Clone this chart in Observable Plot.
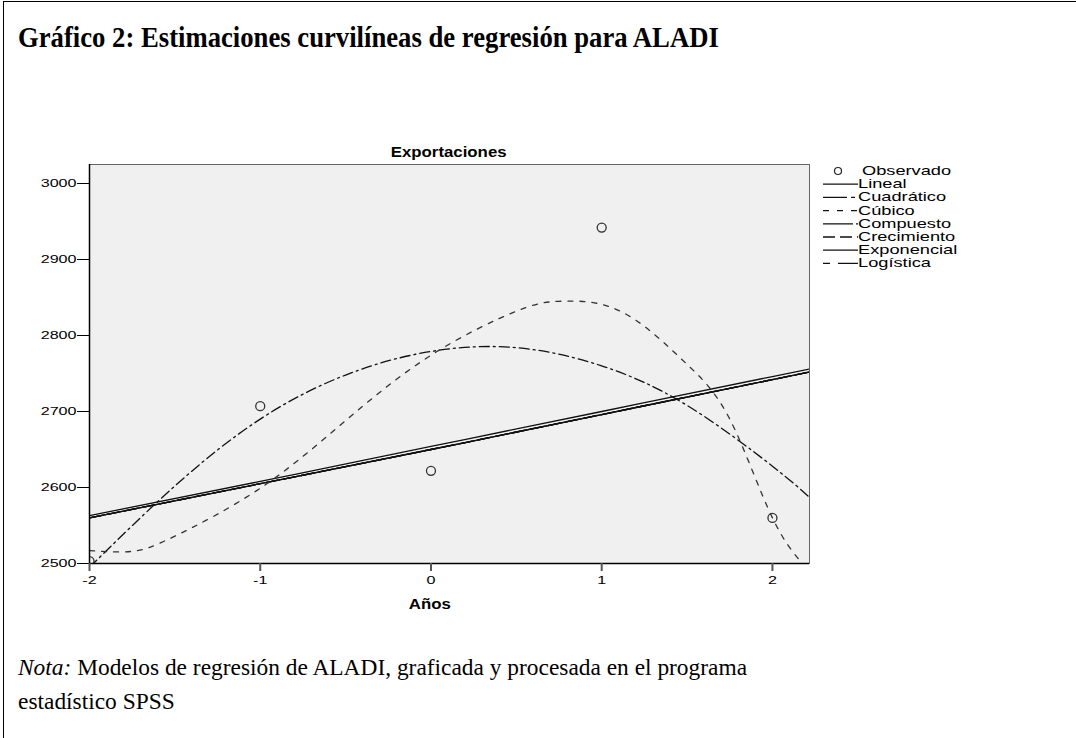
<!DOCTYPE html>
<html><head><meta charset="utf-8">
<script src="https://cdn.jsdelivr.net/npm/d3@7"></script>
<script src="https://cdn.jsdelivr.net/npm/@observablehq/plot@0.6"></script>
<style>
html,body{margin:0;padding:0;background:#fff;width:1076px;height:738px;overflow:hidden;}
#page{position:relative;width:1076px;height:738px;}
#box{position:absolute;left:3px;top:1px;width:1090px;height:800px;border:1.5px solid #000;box-sizing:border-box;}
#title{position:absolute;left:18px;top:21px;font-family:"Liberation Serif",serif;font-weight:bold;font-size:29px;color:#000;white-space:nowrap;transform:scaleX(0.92);transform-origin:left center;}
#ctitle{position:absolute;left:89px;width:720px;top:143px;text-align:center;font-family:"Liberation Sans",Arial,sans-serif;font-weight:bold;font-size:15px;}
#xlabel{position:absolute;left:89px;width:682px;top:595px;text-align:center;font-family:"Liberation Sans",Arial,sans-serif;font-weight:bold;font-size:15px;}
.sx{display:inline-block;transform:scaleX(1.12);transform-origin:center;}
#chart{position:absolute;left:0;top:130px;}
#legend{position:absolute;left:815px;top:160px;}
#note{position:absolute;left:18px;top:650px;font-family:"Liberation Serif",serif;font-size:24px;line-height:34px;color:#000;white-space:nowrap;transform:scaleX(0.975);transform-origin:left top;}
</style></head>
<body><div id="page">
<div id="box"></div>
<div id="title">Gráfico 2: Estimaciones curvilíneas de regresión para ALADI</div>
<div id="ctitle"><span class="sx">Exportaciones</span></div>
<div id="chart"></div>
<div id="xlabel"><span class="sx">Años</span></div>
<div id="legend"></div>
<div id="note"><i>Nota:</i> Modelos de regresión de ALADI, graficada y procesada en el programa<br>estadístico SPSS</div>
</div>
<script>
// Observed values
const years = [-2, -1, 0, 1, 2];
const observado = [2503, 2707, 2622, 2942, 2560];

// Linear-like models
const lineX = [-2, -1, 0, 1, 2, 2.217];
const lineal = [2563, 2608, 2654, 2700, 2746, 2756];
const compuesto = [2560, 2605, 2650, 2696, 2742, 2752];
const crecimiento = [2560, 2605, 2650, 2696, 2742, 2752];
const exponencial = [2560, 2605, 2650, 2696, 2742, 2752];
const logistica = [2560, 2605, 2650, 2696, 2742, 2752];

// Quadratic
const quadX = [-2, -1.5, -1, -0.5, 0, 0.5, 1, 1.5, 2, 2.217];
const cuadratico = [2495, 2602, 2690, 2748, 2779, 2784, 2760, 2708, 2628, 2587];

// Cubic
const cubX = [-2, -1.75, -1.5, -1, -0.5, 0, 0.5, 0.75, 1, 1.25, 1.5, 1.75, 2, 2.217];
const cubico = [2517, 2516, 2536, 2599, 2688, 2774, 2832, 2845, 2841, 2812, 2762, 2690, 2560, 2490];

const yTicks = [2500, 2600, 2700, 2800, 2900, 3000];
const xTicks = [-2, -1, 0, 1, 2];

const legendItems = ["Observado", "Lineal", "Cuadrático", "Cúbico", "Compuesto", "Crecimiento", "Exponencial", "Logística"];
const legendDash = [null, "none", "24,4,4,4", "6,8", "30,3,2", "12,5", "none", "7,8,20"];

const pts = (xs, ys) => xs.map((x, i) => ({x, y: ys[i]}));
const obs = pts(years, observado);

const lineStyle = {x: "x", y: "y", stroke: "#111", strokeWidth: 1.3, curve: "natural"};

const chart = Plot.plot({
  width: 1076,
  height: 490,
  marginLeft: 89,
  marginRight: 267,
  marginTop: 34,
  marginBottom: 57,
  x: {domain: [-2, 2.217]},
  y: {domain: [2500, 3025]},
  style: {fontFamily: "'Liberation Sans', Arial, sans-serif", fontSize: "11.5px", color: "#000", background: "transparent"},
  marks: [
    Plot.frame({fill: "#f0f0f0", stroke: "#666"}),
    Plot.line(pts(lineX, logistica), {...lineStyle, strokeDasharray: "12,6", clip: true}),
    Plot.line(pts(lineX, crecimiento), {...lineStyle, strokeDasharray: "14,4", clip: true}),
    Plot.line(pts(lineX, compuesto), {...lineStyle, clip: true}),
    Plot.line(pts(lineX, exponencial), {...lineStyle, clip: true}),
    Plot.line(pts(lineX, lineal), {...lineStyle, clip: true}),
    Plot.line(pts(quadX, cuadratico), {...lineStyle, strokeDasharray: "10,4,2,4", clip: true}),
    Plot.line(pts(cubX, cubico), {...lineStyle, stroke: "#333", strokeDasharray: "5,7", clip: true}),
    Plot.dot(obs, {x: "x", y: "y", r: 4.5, stroke: "#333", strokeWidth: 1.3, fill: "none", clip: true}),
    Plot.ruleX([-2], {stroke: "#000", strokeWidth: 1.5}),
    Plot.ruleY([2500], {stroke: "#000", strokeWidth: 1.5}),
    Plot.axisY({ticks: yTicks, tickSize: 12, tickPadding: 1, tickFormat: d => String(d), label: null, tickStrokeWidth: 1.3}),
    Plot.axisX({ticks: xTicks, tickSize: 8, tickPadding: 4, tickFormat: d => d < 0 ? "-" + Math.abs(d) : String(d), label: null, stroke: "#555", strokeWidth: 2})
  ]
});
document.getElementById("chart").appendChild(chart);

// Stretch tick labels horizontally as in the SPSS export
d3.select(chart).selectAll("g[aria-label='y-axis tick label'] text, g[aria-label='x-axis tick label'] text")
  .each(function() {
    const t = this.getAttribute("transform") || "";
    this.setAttribute("transform", t + " scale(1.4,1)");
  });

// Legend
const lg = d3.select("#legend").append("svg").attr("width", 170).attr("height", 120)
  .style("font-family", "'Liberation Sans', Arial, sans-serif").style("font-size", "12px");
legendItems.forEach((name, i) => {
  const cy = 11 + i * 13.2;
  if (i === 0) {
    lg.append("circle").attr("cx", 23).attr("cy", cy).attr("r", 3.5).attr("fill", "none").attr("stroke", "#222").attr("stroke-width", 1.2);
  } else {
    lg.append("line").attr("x1", 8).attr("x2", 43).attr("y1", cy).attr("y2", cy)
      .attr("stroke", "#111").attr("stroke-width", 1.3)
      .attr("stroke-dasharray", legendDash[i] === "none" ? null : legendDash[i]);
  }
  lg.append("text").attr("transform", `translate(${i === 0 ? 47 : 43},${cy + 4}) scale(1.52,1)`).text(name);
});
</script>
</body></html>
